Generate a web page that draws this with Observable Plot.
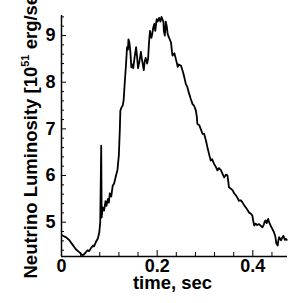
<!DOCTYPE html>
<html><head><meta charset="utf-8">
<script src="https://cdn.jsdelivr.net/npm/d3@7"></script>
<script src="https://cdn.jsdelivr.net/npm/@observablehq/plot@0.6"></script>
<style>body{margin:0;background:#fff}</style></head>
<body><div id="chart"></div>
<script>
const time = [0.001,0.005,0.009,0.016,0.023,0.030,0.037,0.041,0.044,0.047,0.051,0.055,0.058,0.062,0.066,0.068,0.072,0.076,0.079,0.081,0.083,0.084,0.086,0.089,0.092,0.094,0.097,0.099,0.101,0.104,0.107,0.110,0.114,0.117,0.120,0.122,0.123,0.125,0.128,0.130,0.132,0.135,0.137,0.139,0.140,0.142,0.144,0.146,0.149,0.150,0.153,0.156,0.158,0.160,0.163,0.166,0.168,0.172,0.174,0.176,0.179,0.181,0.183,0.185,0.188,0.190,0.192,0.194,0.196,0.199,0.201,0.204,0.207,0.209,0.211,0.213,0.214,0.216,0.218,0.220,0.222,0.225,0.227,0.229,0.231,0.232,0.236,0.239,0.243,0.245,0.250,0.253,0.255,0.258,0.260,0.263,0.267,0.270,0.274,0.277,0.281,0.283,0.284,0.288,0.291,0.295,0.298,0.302,0.305,0.308,0.312,0.315,0.319,0.323,0.326,0.329,0.333,0.336,0.340,0.344,0.347,0.349,0.350,0.354,0.358,0.361,0.365,0.368,0.371,0.375,0.378,0.382,0.385,0.389,0.392,0.396,0.399,0.401,0.403,0.406,0.409,0.413,0.417,0.420,0.423,0.425,0.427,0.429,0.432,0.434,0.437,0.441,0.444,0.447,0.449,0.452,0.453,0.455,0.456,0.459,0.461,0.464,0.467,0.469,0.471];
const lum = [4.72,4.70,4.68,4.62,4.52,4.42,4.36,4.32,4.29,4.31,4.36,4.40,4.38,4.45,4.50,4.48,4.58,4.65,4.78,5.00,6.64,5.10,5.32,5.25,5.45,5.35,5.50,5.42,5.62,5.55,5.78,5.83,6.00,6.12,6.45,7.00,7.39,7.45,7.50,7.62,7.95,8.40,8.75,8.70,8.92,8.85,8.65,8.32,8.38,8.30,8.55,8.75,8.55,8.30,8.45,8.65,8.50,8.26,8.45,8.52,8.40,8.50,8.85,9.10,8.95,9.05,9.18,9.25,9.10,9.35,9.30,9.38,9.30,9.40,9.35,9.30,9.10,9.00,9.30,9.20,9.03,8.95,8.90,8.85,8.65,8.57,8.62,8.50,8.33,8.38,8.35,8.25,8.18,8.05,7.96,7.90,7.75,7.65,7.53,7.50,7.39,7.25,7.11,7.08,7.00,6.89,6.90,6.75,6.61,6.48,6.32,6.35,6.25,6.18,6.11,6.16,6.12,6.05,5.96,6.02,6.00,5.85,5.75,5.72,5.68,5.62,5.57,5.52,5.46,5.47,5.43,5.36,5.32,5.26,5.21,5.18,5.14,5.02,4.93,4.97,4.94,4.96,4.92,4.89,4.95,5.02,5.04,4.98,5.07,5.00,4.93,4.85,4.79,4.70,4.55,4.50,4.58,4.68,4.66,4.61,4.66,4.71,4.62,4.64,4.62];

const xMajor = [0, 0.2, 0.4];
const xMinor = [0.04, 0.08, 0.12, 0.16, 0.24, 0.28, 0.32, 0.36, 0.44];
const yMajor = [5, 6, 7, 8, 9];
const yMinor = [4.4, 4.6, 4.8, 5.2, 5.4, 5.6, 5.8, 6.2, 6.4, 6.6, 6.8, 7.2, 7.4, 7.6, 7.8, 8.2, 8.4, 8.6, 8.8, 9.2, 9.4];
const xDomain = [0, 0.4725];
const yDomain = [4.265, 9.43];
const xLabel = "time, sec";
const yLabelParts = ["Neutrino Luminosity [10", "51", " erg/sec]"];

const data = time.map((t, i) => ({t, L: lum[i]}));

const W = 303, H = 303, mL = 61, mR = 16, mT = 15, mB = 47;
const pw = W - mL - mR, ph = H - mT - mB;

const chart = Plot.plot({
  width: W, height: H,
  marginLeft: mL, marginRight: mR, marginTop: mT, marginBottom: mB,
  style: {fontFamily: "'Liberation Sans', Arial, sans-serif", fontSize: "18px", fontWeight: "bold", background: "#fff", color: "#000"},
  x: {domain: xDomain},
  y: {domain: yDomain},
  marks: [
    Plot.axisX(xMajor, {tickSize: 0, tickPadding: 3, fontSize: 18, tickFormat: d => d === 0 ? "0" : d.toFixed(1), label: null}),
    Plot.axisY(yMajor, {tickSize: 0, tickPadding: 6, fontSize: 18, tickFormat: d => String(d), label: null}),
    Plot.tickX(xMajor, {x: d => d, insetTop: ph - 6, stroke: "#000", strokeWidth: 1}),
    Plot.tickX(xMinor, {x: d => d, insetTop: ph - 4, stroke: "#000", strokeWidth: 1}),
    Plot.tickY(yMajor, {y: d => d, insetRight: pw - 5, stroke: "#000", strokeWidth: 1}),
    Plot.tickY(yMinor, {y: d => d, insetRight: pw - 3, stroke: "#000", strokeWidth: 1}),
    Plot.ruleX([xDomain[0]], {stroke: "#000", strokeWidth: 1.5}),
    Plot.ruleY([yDomain[0]], {stroke: "#000", strokeWidth: 1.5}),
    Plot.line(data, {x: "t", y: "L", stroke: "#000", strokeWidth: 1.8}),
    Plot.text([xLabel], {text: d => d, frameAnchor: "bottom", dx: -2, dy: 32, lineAnchor: "bottom", fontSize: 18.5}),
    Plot.text([yLabelParts.join("")], {text: d => d, frameAnchor: "bottom-left", rotate: -90, textAnchor: "start", lineAnchor: "middle", dx: -30, dy: 22, fontSize: 18.5, className: "ylab"})
  ]
});
document.getElementById("chart").appendChild(chart);

// superscript in y label
const yl = chart.querySelector(".ylab text");
if (yl) {
  yl.textContent = "";
  const ns = "http://www.w3.org/2000/svg";
  const a = document.createElementNS(ns, "tspan"); a.textContent = yLabelParts[0];
  const b = document.createElementNS(ns, "tspan"); b.textContent = yLabelParts[1];
  b.setAttribute("font-size", "11"); b.setAttribute("dy", "-8");
  const c = document.createElementNS(ns, "tspan"); c.textContent = yLabelParts[2];
  c.setAttribute("dy", "8");
  yl.append(a, b, c);
}
</script>
</body></html>
